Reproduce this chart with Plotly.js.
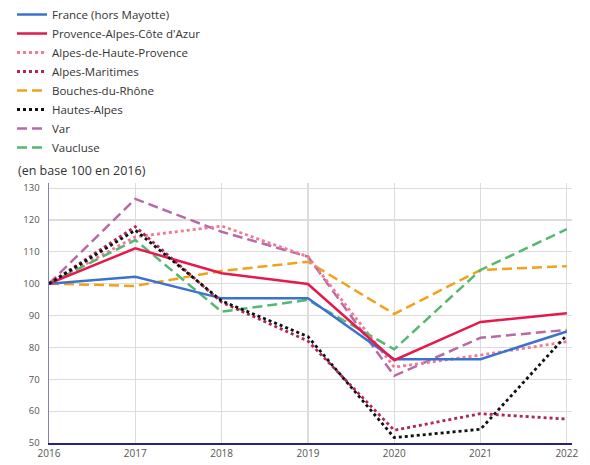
<!DOCTYPE html>
<html><head><meta charset="utf-8">
<script src="https://cdn.plot.ly/plotly-3.0.1.min.js"></script>
<style>html,body{margin:0;padding:0;background:#fff}#chart{width:590px;height:465px}</style>
</head><body><div id="chart"></div>
<script>
const years = [2016, 2017, 2018, 2019, 2020, 2021, 2022];
const seriesNames = ["France (hors Mayotte)", "Provence-Alpes-Côte d'Azur", "Alpes-de-Haute-Provence", "Alpes-Maritimes", "Bouches-du-Rhône", "Hautes-Alpes", "Var", "Vaucluse"];
const france = [100, 102.2, 95.4, 95.4, 76.3, 76.3, 85.0];
const paca = [100, 111.1, 103.3, 99.9, 76.0, 88.0, 90.7];
const alpesHauteProvence = [100, 114.7, 118.1, 108.5, 73.8, 77.6, 81.8];
const alpesMaritimes = [100, 117.9, 94.2, 82.0, 54.0, 59.2, 57.5];
const bouchesDuRhone = [100, 99.3, 104.0, 106.9, 90.5, 104.3, 105.5];
const hautesAlpes = [100, 116.8, 94.6, 83.4, 51.7, 54.3, 83.9];
const varDep = [100, 126.6, 116.3, 108.5, 71.1, 83.0, 85.5];
const vaucluse = [100, 113.7, 91.2, 94.9, 79.4, 104.3, 117.1];
const yTicks = [50, 60, 70, 80, 90, 100, 110, 120, 130];

const values = [france, paca, alpesHauteProvence, alpesMaritimes, bouchesDuRhone, hautesAlpes, varDep, vaucluse];
const colors = ["#3b72cf", "#e6194d", "#f27a95", "#b0284f", "#f0a21c", "#111111", "#b86aa6", "#56b870"];
const dashes = ["solid", "solid", "dot", "dot", "10px,5px", "dot", "10px,5px", "10px,5px"];
const widths = [2.5, 2.5, 2.8, 2.8, 2.5, 2.8, 2.5, 2.5];

// draw order: later traces on top
const order = [4, 6, 2, 7, 0, 1, 3, 5];
const traces = order.map(i => ({
  x: years, y: values[i], name: seriesNames[i], type: 'scatter', mode: 'lines',
  line: {color: colors[i], dash: dashes[i], width: widths[i]},
  legendrank: i + 1
}));

const layout = {
  width: 590, height: 465,
  margin: {l: 49, r: 18, t: 183, b: 22, autoexpand: false},
  paper_bgcolor: '#fff', plot_bgcolor: '#fff',
  font: {family: '"Open Sans", sans-serif', color: '#444'},
  showlegend: true,
  legend: {x: 12/590, y: 1, xref: 'container', yref: 'container', xanchor: 'left', yanchor: 'top',
           font: {size: 11.5, color: '#333'}, bgcolor: 'rgba(0,0,0,0)', traceorder: 'normal', tracegroupgap: 0},
  xaxis: {range: [2016, 2022.06], tickvals: years, ticktext: years.map(String), showgrid: true,
          gridcolor: '#dcdcdc', gridwidth: 1.2, zeroline: false, showline: true, linecolor: '#24247a', linewidth: 1.5,
          ticks: '', tickfont: {size: 10, color: '#555'}, fixedrange: true},
  yaxis: {range: [50, 131.6], tickvals: yTicks, showgrid: true, gridcolor: '#dcdcdc', gridwidth: 1.2,
          zeroline: false, showline: true, linecolor: '#8080c0', linewidth: 1.5, ticks: '',
          tickfont: {size: 9.5, color: '#555'}, ticklabelstandoff: 6, fixedrange: true},
  annotations: [{text: '(en base 100 en 2016)', xref: 'paper', yref: 'paper', x: -33/522, y: 1 + 13/260,
                 xanchor: 'left', yanchor: 'middle', showarrow: false, font: {size: 12.5, color: '#333'}}]
};
Plotly.newPlot('chart', traces, layout, {displayModeBar: false, staticPlot: true});
</script></body></html>
